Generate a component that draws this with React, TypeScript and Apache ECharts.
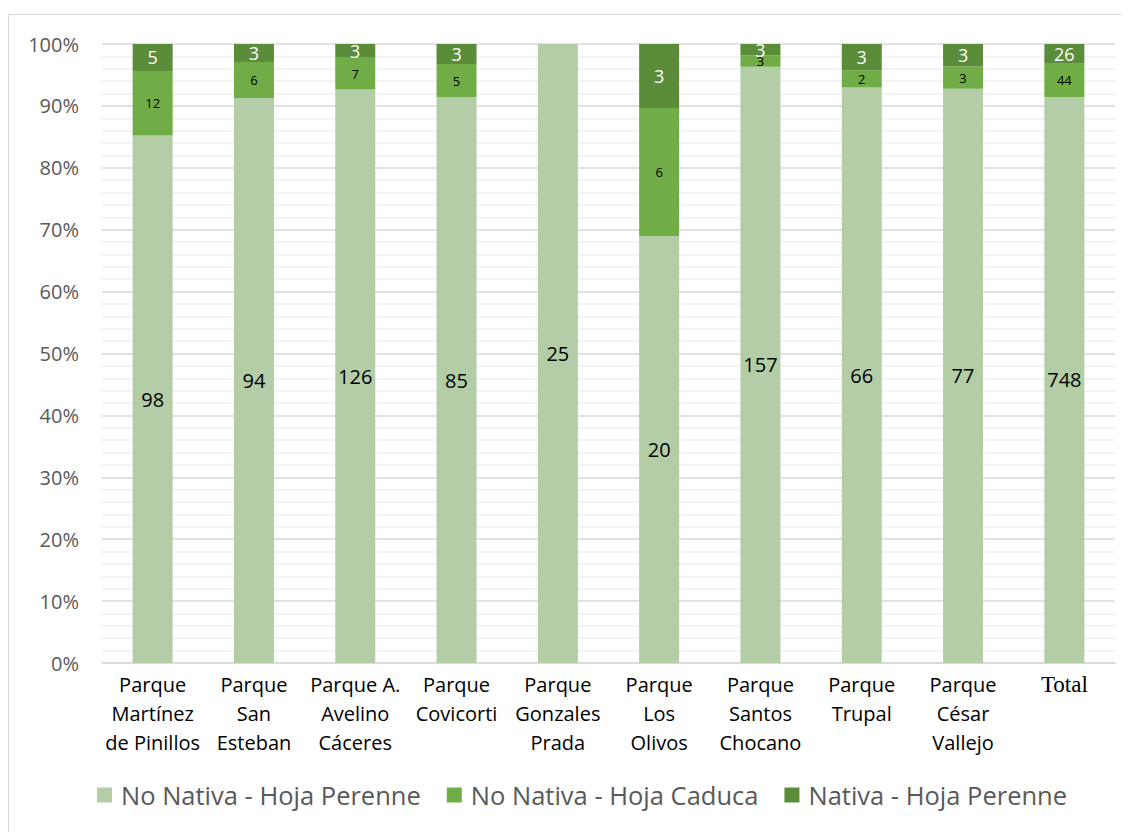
import React, { useEffect, useRef } from "react";
import * as echarts from "echarts";

const categories = [
  "Parque\nMartínez\nde Pinillos",
  "Parque\nSan\nEsteban",
  "Parque A.\nAvelino\nCáceres",
  "Parque\nCovicorti",
  "Parque\nGonzales\nPrada",
  "Parque\nLos\nOlivos",
  "Parque\nSantos\nChocano",
  "Parque\nTrupal",
  "Parque\nCésar\nVallejo",
  "Total",
];
const seriesNames = ["No Nativa - Hoja Perenne", "No Nativa - Hoja Caduca", "Nativa - Hoja Perenne"];
const noNativaPerenne = [98, 94, 126, 85, 25, 20, 157, 66, 77, 748];
const noNativaCaduca = [12, 6, 7, 5, 0, 6, 3, 2, 3, 44];
const nativaPerenne = [5, 3, 3, 3, 0, 3, 3, 3, 3, 26];
const colors = ["#b3cea7", "#70ad47", "#5b8c3a"];
const yTicks = [0, 10, 20, 30, 40, 50, 60, 70, 80, 90, 100];

const FONT = "'Open Sans', sans-serif";

export default function App() {
  const ref = useRef<HTMLDivElement>(null);
  useEffect(() => {
    if (!ref.current) return;
    const chart = echarts.init(ref.current, null, { renderer: "svg" });
    const all = [noNativaPerenne, noNativaCaduca, nativaPerenne];
    const totals = categories.map((_, i) => all.reduce((s, arr) => s + arr[i], 0));
    const labelStyles = [
      { color: "#000", fontSize: 20 },
      { color: "#000", fontSize: 13 },
      { color: "#fff", fontSize: 18 },
    ];
    const series = all.map((arr, si) => ({
      name: seriesNames[si],
      type: "bar",
      stack: "s",
      barWidth: 40,
      itemStyle: { color: colors[si] },
      label: {
        show: true,
        position: "inside",
        fontFamily: FONT,
        ...labelStyles[si],
        formatter: (p: any) => (p.data.count > 0 ? String(p.data.count) : ""),
      },
      data: arr.map((v, i) => ({ value: (v / totals[i]) * 100, count: v })),
    }));
    chart.setOption({
      animation: false,
      textStyle: { fontFamily: FONT },
      graphic: [
        {
          type: "rect",
          shape: { x: 0.5, y: 6.5, width: 1200, height: 1000 },
          style: { fill: "none", stroke: "#d9d9d9", lineWidth: 1 },
          silent: true,
        },
      ],
      grid: { left: 94, right: 15, top: 36, bottom: 169, containLabel: false },
      legend: {
        bottom: 19,
        left: 84,
        icon: "rect",
        itemWidth: 15,
        itemHeight: 15,
        itemGap: 26,
        textStyle: { color: "#595959", fontSize: 25.5, fontFamily: FONT, padding: [0, 0, 0, 4] },
        data: seriesNames,
      },
      xAxis: {
        type: "category",
        data: categories,
        axisLine: { lineStyle: { color: "#d9d9d9", width: 1.5 } },
        axisTick: { show: false },
        axisLabel: {
          interval: 0,
          margin: 7,
          color: "#000",
          fontSize: 20,
          lineHeight: 29,
          verticalAlign: "top",
          fontFamily: FONT,
          formatter: (v: string) => (v === "Total" ? "{t|Total}" : v),
          rich: {
            t: { fontFamily: "'Liberation Serif', serif", fontSize: 23, color: "#000", lineHeight: 29 },
          },
        },
      },
      yAxis: {
        type: "value",
        min: yTicks[0],
        max: yTicks[yTicks.length - 1],
        interval: 10,
        axisLine: { show: false },
        axisTick: { show: false },
        axisLabel: {
          margin: 23,
          color: "#595959",
          fontSize: 20,
          fontFamily: FONT,
          formatter: "{value}%",
        },
        splitLine: { lineStyle: { color: "#d9d9d9", width: 1.5 } },
        minorTick: { show: false, splitNumber: 5 },
        minorSplitLine: { show: true, lineStyle: { color: "#efefef", width: 1.5 } },
      },
      series,
    });
    return () => chart.dispose();
  }, []);
  return <div ref={ref} style={{ width: 1122, height: 824 }} />;
}
